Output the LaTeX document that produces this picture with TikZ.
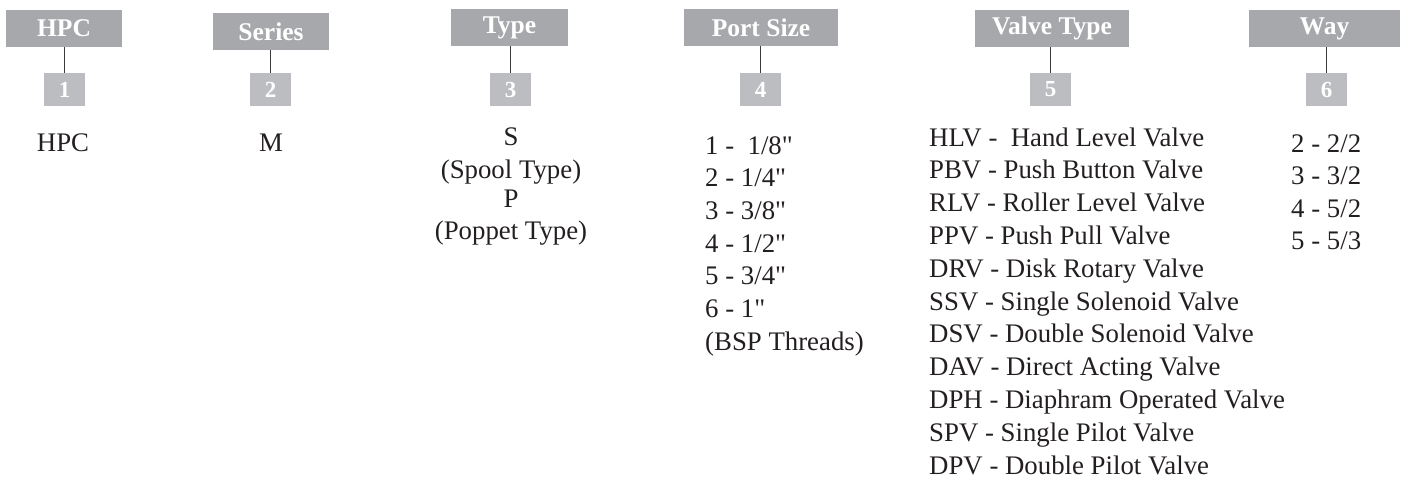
\documentclass[tikz,border=0pt]{standalone}
\usepackage{fontspec}
\setmainfont{Liberation Serif}[Ligatures=TeXOff]
\definecolor{hdr}{HTML}{A7A8AB}
\definecolor{numc}{HTML}{BCBDC0}
\definecolor{linec}{HTML}{3A3A3A}
\definecolor{txt}{HTML}{231F20}
\tikzset{
  hdrbox/.style={fill=hdr, inner sep=0pt, text=white, minimum height=37pt,
    font=\fontsize{25.5}{28}\selectfont\bfseries},
  numbox/.style={fill=numc, inner sep=0pt, text=white, minimum width=41pt, minimum height=33pt,
    font=\fontsize{23}{25}\selectfont\bfseries},
  conn/.style={draw=linec, line width=1.3pt},
  item/.style={inner sep=0pt, text=txt, font=\fontsize{26.8}{29}\selectfont},
}
\begin{document}
\begin{tikzpicture}[x=1pt,y=-1pt]
\useasboundingbox (0,0) rectangle (1402,477);
% headers
\node[hdrbox, minimum width=116pt] (h1) at (64,28.5) {HPC};
\node[hdrbox, minimum width=116pt] (h2) at (271,31.5) {Series};
\node[hdrbox, minimum width=117pt] (h3) at (509.5,27.5) {Type};
\node[hdrbox, minimum width=154pt] (h4) at (761,27.5) {Port Size};
\node[hdrbox, minimum width=154pt] (h5) at (1052,28.5) {Valve Type};
\node[hdrbox, minimum width=151pt] (h6) at (1324.5,28.5) {Way};
% numbers
\node[numbox] (n1) at (64.5,89.5) {1};
\node[numbox] (n2) at (270.5,89.5) {2};
\node[numbox] (n3) at (510.5,89.5) {3};
\node[numbox] (n4) at (760.5,89.5) {4};
\node[numbox] (n5) at (1050.5,89.5) {5};
\node[numbox] (n6) at (1326.5,89.5) {6};
% connectors
\foreach \i in {1,...,6} {
  \draw[conn] (n\i.north) -- (n\i.north |- h\i.south);
}
% column 1 and 2
\node[item, anchor=base] (c1) at (63,151) {HPC};
\node[item, anchor=base] (c2) at (271,151) {M};
% column 3
\node[item, anchor=base] (t1) at (511,145) {S};
\node[item, anchor=base] (t2) at (511,178) {(Spool Type)};
\node[item, anchor=base] (t3) at (511,207) {P};
\node[item, anchor=base] (t4) at (511,239) {(Poppet Type)};
% column 4
\foreach \t [count=\k] in {1 -\ \ 1/8",2 - 1/4",3 - 3/8",4 - 1/2",5 - 3/4",6 - 1",(BSP Threads)} {
  \node[item, anchor=base west] (p\k) at (705,{154+(\k-1)*32.7}) {\t};
}
% column 5
\foreach \t [count=\k] in {HLV -\ \ Hand Level Valve,PBV - Push Button Valve,RLV - Roller Level Valve,PPV - Push Pull Valve,DRV - Disk Rotary Valve,SSV - Single Solenoid Valve,DSV - Double Solenoid Valve,DAV - Direct Acting Valve,DPH - Diaphram Operated Valve,SPV - Single Pilot Valve,DPV - Double Pilot Valve} {
  \node[item, anchor=base west] (v\k) at (929,{146+(\k-1)*32.8}) {\t};
}
% column 6
\foreach \t [count=\k] in {2 - 2/2,3 - 3/2,4 - 5/2,5 - 5/3} {
  \node[item, anchor=base west] (w\k) at (1291,{152+(\k-1)*32.5}) {\t};
}
\end{tikzpicture}
\end{document}
